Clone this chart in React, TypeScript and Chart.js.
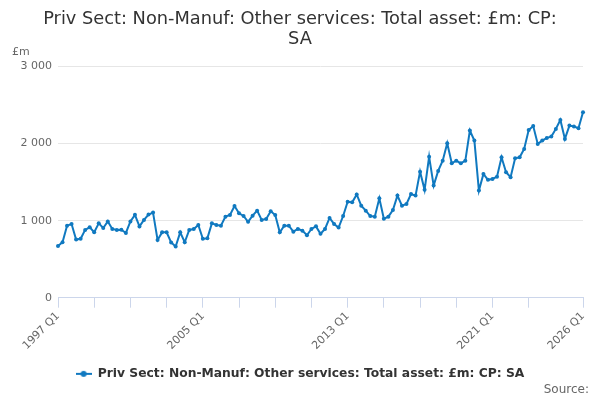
import React, { useEffect, useRef } from 'react';
import { Chart, registerables } from 'chart.js';

// Register all Chart.js components
Chart.register(...registerables);

const FONT = '"DejaVu Sans", sans-serif';
const LINE_COLOR = '#1079c0';

const TITLE = ['Priv Sect: Non-Manuf: Other services: Total asset: £m: CP:', 'SA'];
const SERIES_LABEL = 'Priv Sect: Non-Manuf: Other services: Total asset: £m: CP: SA';
const UNIT_LABEL = '£m';
const SOURCE_LABEL = 'Source:';

// Quarterly categories, 1997 Q1 .. 2026 Q1
const quarters: string[] = [];
for (let y = 1997; y <= 2026; y++) {
  for (let q = 1; q <= 4; q++) {
    if (y === 2026 && q > 1) break;
    quarters.push(`${y} Q${q}`);
  }
}

// Ticks with a text label, and ticks with just a tick mark
const labelledTicks = ['1997 Q1', '2005 Q1', '2013 Q1', '2021 Q1', '2026 Q1'];
const tickMarks = [
  '1997 Q1', '1999 Q1', '2001 Q1', '2003 Q1', '2005 Q1', '2007 Q1', '2009 Q1',
  '2011 Q1', '2013 Q1', '2015 Q1', '2017 Q1', '2019 Q1', '2021 Q1', '2023 Q1', '2026 Q1',
];

const yTicks = [0, 1000, 2000, 3000];

// £m, one value per quarter
const values = [
  670, 720, 935, 957, // 1997
  755, 765, 880, 913, // 1998
  850, 965, 905, 990, // 1999
  892, 880, 883, 840, // 2000
  990, 1075, 925, 1010, // 2001
  1080, 1105, 750, 848, // 2002
  848, 718, 665, 848, // 2003
  720, 880, 892, 944, // 2004
  765, 770, 965, 944, // 2005
  935, 1052, 1074, 1190, // 2006
  1095, 1061, 985, 1065, // 2007
  1130, 1009, 1022, 1121, // 2008
  1074, 848, 935, 935, // 2009
  857, 892, 870, 810, // 2010
  892, 926, 830, 892, // 2011
  1035, 957, 910, 1060, // 2012
  1245, 1238, 1340, 1195, // 2013
  1130, 1060, 1052, 1290, // 2014
  1025, 1052, 1139, 1325, // 2015
  1195, 1216, 1346, 1325, // 2016
  1636, 1400, 1831, 1455, // 2017
  1645, 1779, 2004, 1745, // 2018
  1779, 1745, 1779, 2169, // 2019
  2039, 1390, 1606, 1530, // 2020
  1541, 1571, 1822, 1628, // 2021
  1563, 1809, 1822, 1931, // 2022
  2175, 2228, 1996, 2039, // 2023
  2074, 2091, 2191, 2307, // 2024
  2061, 2234, 2221, 2200, // 2025
  2407, // 2026
];

function legendSymbol(color: string) {
  const c = document.createElement('canvas');
  c.width = 16;
  c.height = 8;
  const g = c.getContext('2d');
  if (g) {
    g.strokeStyle = color;
    g.lineWidth = 2;
    g.beginPath();
    g.moveTo(0, 4);
    g.lineTo(16, 4);
    g.stroke();
    g.fillStyle = color;
    g.beginPath();
    g.arc(8, 4, 3, 0, Math.PI * 2);
    g.fill();
  }
  return c;
}

// Unit label above the y axis and source note in the corner
const extraText = {
  id: 'extraText',
  afterDraw(chart: Chart) {
    const { ctx } = chart;
    ctx.save();
    ctx.fillStyle = '#666';
    ctx.textBaseline = 'middle';
    ctx.font = `11px ${FONT}`;
    ctx.textAlign = 'left';
    ctx.fillText(UNIT_LABEL, 12, 52);
    ctx.font = `12px ${FONT}`;
    ctx.textAlign = 'right';
    ctx.fillText(SOURCE_LABEL, 589, 390);
    ctx.restore();
  },
};

const App: React.FC = () => {
  const chartRef = useRef<HTMLCanvasElement>(null);
  const chartInstance = useRef<Chart | null>(null);

  useEffect(() => {
    if (!chartRef.current) return;
    if (chartInstance.current) chartInstance.current.destroy();

    const ctx = chartRef.current.getContext('2d');
    if (!ctx) return;

    const tickIdx = tickMarks.map(l => quarters.indexOf(l));

    chartInstance.current = new Chart(ctx, {
      type: 'line',
      data: {
        labels: quarters,
        datasets: [
          {
            label: SERIES_LABEL,
            data: values,
            borderColor: LINE_COLOR,
            backgroundColor: LINE_COLOR,
            borderWidth: 2,
            pointRadius: 2,
            pointHoverRadius: 4,
            pointBackgroundColor: LINE_COLOR,
            pointBorderWidth: 0,
            tension: 0,
            fill: false,
          },
        ],
      },
      options: {
        animation: false,
        responsive: true,
        maintainAspectRatio: false,
        layout: { padding: { left: 0, right: 0, top: 0, bottom: 10 } },
        plugins: {
          title: {
            display: true,
            text: TITLE,
            color: '#333',
            font: { family: FONT, size: 17.8, weight: 'normal', lineHeight: 1.1 },
            padding: { top: 10, bottom: 17.4 },
          },
          legend: {
            position: 'bottom',
            labels: {
              usePointStyle: true,
              pointStyle: legendSymbol(LINE_COLOR),
              pointStyleWidth: 16,
              color: '#333',
              font: { family: FONT, size: 12.3, weight: 'bold' },
              padding: 10,
            },
          },
          tooltip: { enabled: true },
        },
        scales: {
          x: {
            ticks: {
              autoSkip: false,
              minRotation: 45,
              maxRotation: 45,
              color: '#666',
              font: { family: FONT, size: 11 },
              padding: 2,
              callback: function (value) {
                const label = quarters[value as number];
                return labelledTicks.includes(label) ? label : '';
              },
            },
            afterBuildTicks: (scale) => {
              scale.ticks = tickIdx.map(v => ({ value: v }));
            },
            afterFit: (scale) => {
              scale.height = 60;
              scale.paddingRight = 17;
            },
            grid: {
              display: true,
              drawOnChartArea: false,
              drawTicks: true,
              tickLength: 10,
              color: '#ccd6eb',
            },
            border: { display: true, color: '#ccd6eb' },
          },
          y: {
            min: 0,
            max: 3000,
            afterBuildTicks: (scale) => {
              scale.ticks = yTicks.map(v => ({ value: v }));
            },
            afterFit: (scale) => {
              scale.width = 58;
            },
            ticks: {
              color: '#666',
              font: { family: FONT, size: 11 },
              padding: 6,
              callback: function (value) {
                return String(value).replace(/\B(?=(\d{3})+(?!\d))/g, ' ');
              },
            },
            grid: { color: '#e6e6e6', drawTicks: false },
            border: { display: false },
          },
        },
      },
      plugins: [extraText],
    });

    return () => {
      if (chartInstance.current) {
        chartInstance.current.destroy();
        chartInstance.current = null;
      }
    };
  }, []);

  return (
    <div style={{ position: 'absolute', left: 0, top: 0, width: 600, height: 400, background: '#fff' }}>
      <canvas ref={chartRef}></canvas>
    </div>
  );
};

export default App;
